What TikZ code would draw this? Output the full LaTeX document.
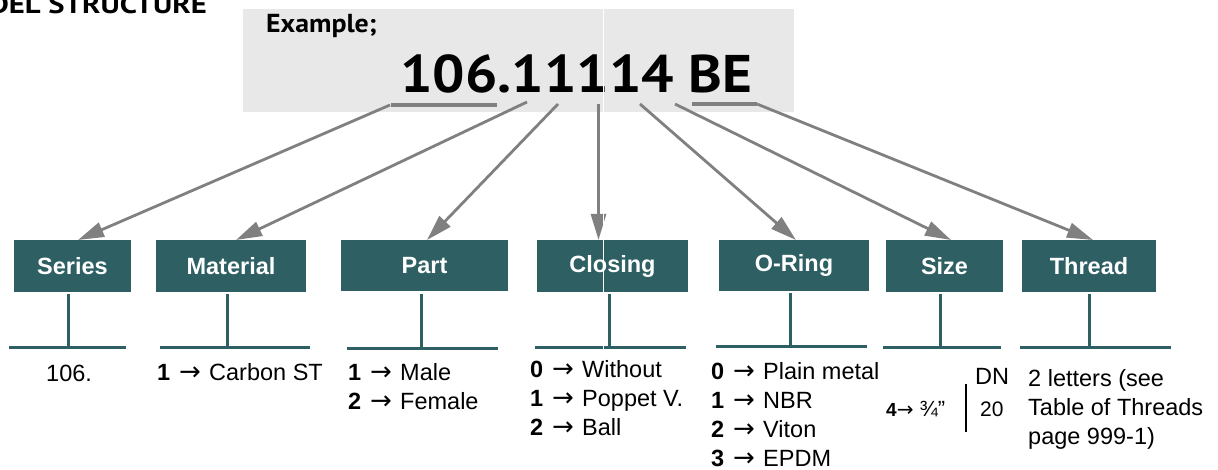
\documentclass[tikz,border=0pt]{standalone}
\usepackage{fontspec}
\usetikzlibrary{arrows.meta}
\setmainfont{Liberation Sans}
\newfontfamily\dinfont{PT Sans}
\newfontfamily\symfont{DejaVu Sans}
\definecolor{teal}{HTML}{2D5F63}
\definecolor{arrowgray}{HTML}{808080}
\definecolor{panel}{HTML}{E8E8E8}
\newcommand{\rowitem}[2]{\makebox[22pt][l]{\bfseries #1}\makebox[30pt][l]{{\symfont\fontsize{26}{29}\selectfont →}}#2}
\tikzset{
  x=1pt,y=-1pt,
  hdr/.style={fill=teal,text=white,font=\fontsize{23.5}{28}\selectfont\bfseries,inner sep=0pt,minimum height=52pt},
  stem/.style={draw=teal,line width=3pt},
  pointer/.style={draw=arrowgray,line width=2.8pt,-{Triangle[length=26pt,width=15pt]}},
  uline/.style={draw=arrowgray,line width=3.4pt},
  listing/.style={anchor=base west,inner sep=0pt,align=left,font=\fontsize{23.5}{29}\selectfont},
}
\begin{document}
\begin{tikzpicture}
\useasboundingbox (0,0) rectangle (1218,470);
\clip (0,0) rectangle (1218,470);
\fill[panel] (243,9) rectangle (794,112);
\node[anchor=base east,inner sep=0pt,font=\dinfont\fontsize{26}{30}\selectfont\bfseries] (title) at (207,13.5) {\scalebox{1.18}[1]{MODEL STRUCTURE}};
\node[anchor=base west,inner sep=0pt,font=\dinfont\fontsize{26}{30}\selectfont\bfseries] (example) at (266,33) {\scalebox{1.07}[1]{Example;}};
\node[anchor=base west,inner sep=0pt,font=\dinfont\fontsize{53}{60}\selectfont\bfseries] (code) at (400,93) {\scalebox{1.08}[1]{106.11114 BE}};
% header boxes
\node[hdr,minimum width=117pt] (series) at (72.5,266) {Series};
\node[hdr,minimum width=150pt] (material) at (231,266) {Material};
\node[hdr,minimum width=167pt,minimum height=51pt] (part) at (424.5,265.5) {Part};
\node[hdr,minimum width=151pt] (closing) at (612.5,266) {Closing};
\node[hdr,minimum width=150pt,minimum height=51pt] (oring) at (794,265.5) {O-Ring};
\node[hdr,minimum width=117pt] (size) at (944.5,266) {Size};
\node[hdr,minimum width=134pt] (thread) at (1089,266) {Thread};
% underline marks
\coordinate (u1a) at (391,105); \coordinate (u1b) at (497,105);
\coordinate (u2a) at (692,104); \coordinate (u2b) at (757,104);
\draw[uline] (u1a) -- (u1b);
\draw[uline] (u2a) -- (u2b);
% pointers
\foreach \n/\sx/\sy/\tx in {1/390/105/78,2/527/102/236,3/558/104/427,4/598.5/104/598.5,5/640/104/796,6/675/104/951,7/757/104/1093}{
  \coordinate (s\n) at (\sx,\sy);
  \coordinate (t\n) at (\tx,240);
  \draw[pointer] (s\n) -- (t\n);
}
% stems and bars
\foreach \n/\vx/\vt/\ya/\xa/\xb in {1/68/294/347.3/9/126,2/227/294/347.3/160/310,3/421/294/348/347/498,4/609/294/347.3/535/686,5/790/293/346.3/716/867,6/940/294/347.3/883/1001,7/1089/294/347.3/1020/1171}{
  \coordinate (vt\n) at (\vx,\vt);
  \coordinate (vb\n) at (\vx,\ya);
  \coordinate (ba\n) at (\xa,\ya);
  \coordinate (bb\n) at (\xb,\ya);
  \draw[stem] (vt\n) -- (vb\n);
  \draw[stem] (ba\n) -- (bb\n);
}
% lists
\node[listing] (l1) at (46,381) {106.};
\node[listing] (l2) at (157,380) {\rowitem{1}{Carbon ST}};
\node[listing] (l3) at (348,409) {\rowitem{1}{Male}\\\rowitem{2}{Female}};
\node[listing] (l4) at (530,435) {\rowitem{0}{Without}\\\rowitem{1}{Poppet V.}\\\rowitem{2}{Ball}};
\node[listing] (l5) at (711,466) {\rowitem{0}{Plain metal}\\\rowitem{1}{NBR}\\\rowitem{2}{Viton}\\\rowitem{3}{EPDM}};
\node[anchor=base west,inner sep=0pt,font=\fontsize{19}{22}\selectfont] (l6) at (886,416) {\textbf{4}{\symfont\fontsize{20}{22}\selectfont →}\hspace{6pt}\fontsize{22}{24}\selectfont ¾”};
\node[listing] (dn) at (975,384) {DN};
\node[anchor=base west,inner sep=0pt,font=\fontsize{21}{25}\selectfont] (dn20) at (980,416) {20};
\coordinate (sepa) at (966,384); \coordinate (sepb) at (966,432);
\draw[line width=2.8pt] (sepa) -- (sepb);
\node[listing] (l7) at (1028,444) {2 letters (see\\Table of Threads\\page 999-1)};
% white seam
\coordinate (seama) at (603.5,9); \coordinate (seamb) at (603.5,350);
\draw[white,line width=1pt] (seama) -- (seamb);
\end{tikzpicture}
\end{document}
